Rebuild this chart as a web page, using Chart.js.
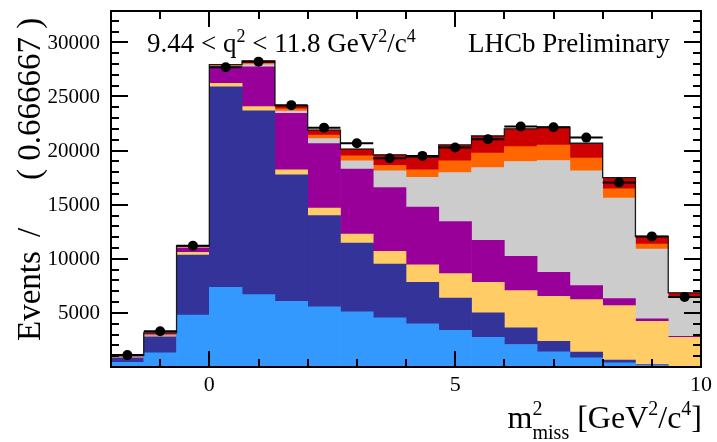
<!DOCTYPE html>
<html>
<head>
<meta charset="utf-8">
<script src="https://cdn.jsdelivr.net/npm/chart.js@4.4.1/dist/chart.umd.min.js"></script>
<style>
  html, body { margin: 0; padding: 0; background: #ffffff; }
  canvas { display: block; }
</style>
</head>
<body>
<canvas id="chart" width="717" height="442"></canvas>
<script>
// m²_miss histogram: 18 bins of width 2/3 GeV²/c⁴ between -2 and 10
const binWidth = 2 / 3;
const binCenters = [-1.6667, -1.0, -0.3333, 0.3333, 1.0, 1.6667, 2.3333, 3.0, 3.6667,
                    4.3333, 5.0, 5.6667, 6.3333, 7.0, 7.6667, 8.3333, 9.0, 9.6667];

// Fit components, stacked from the bottom up (events per bin)
const lightBlue   = [440, 1310, 4800, 7360, 6690, 6070, 5550, 5090, 4540, 3990, 3400, 2750, 2080, 1400, 850, 390, 140, 20];
const darkBlue    = [410, 1475, 5550, 18540, 16990, 11690, 8450, 6370, 4980, 3840, 2980, 2250, 1540, 980, 520, 240, 90, 40];
const lightOrange = [50, 115, 240, 315, 380, 460, 680, 830, 1160, 1620, 2250, 2830, 3440, 4150, 4860, 5040, 4000, 2690];
const purple      = [50, 70, 410, 1535, 3690, 5230, 5970, 5990, 5910, 5330, 4820, 3870, 3160, 2220, 1290, 650, 220, 90];
const grey        = [10, 20, 30, 70, 200, 210, 450, 770, 1540, 2760, 4520, 6730, 8770, 10330, 10610, 9290, 6450, 3540];
const orange      = [40, 60, 70, 60, 150, 190, 330, 460, 490, 680, 1080, 1330, 1380, 1440, 1170, 860, 470, 150];
const red         = [80, 100, 110, 70, 180, 300, 470, 620, 980, 1170, 1470, 1590, 1630, 1640, 1380, 1040, 700, 320];

// Observed events per bin
const dataCounts = [1100, 3300, 11210, 27700, 28220, 24200, 22120, 20680, 19300, 19510, 20280, 21050, 22220, 22160, 21200, 17050, 12070, 6480];

// Axis tick labels
const xTickLabels = [0, 5, 10];
const yTickLabels = [5000, 10000, 15000, 20000, 25000, 30000];

const layers = [
  { values: lightBlue,   color: '#3399ff' },
  { values: darkBlue,    color: '#333399' },
  { values: lightOrange, color: '#ffcc66' },
  { values: purple,      color: '#990099' },
  { values: grey,        color: '#cccccc' },
  { values: orange,      color: '#ff6600' },
  { values: red,         color: '#cc0000' }
];

const toXY = arr => arr.map((v, i) => ({ x: binCenters[i], y: v }));
const n = binCenters.length;

// stacked total, drawn as a step outline over the histogram
const totals = binCenters.map((_, i) => layers.reduce((s, l) => s + l.values[i], 0));
const outline = binCenters.map((c, i) => ({ x: c - binWidth / 2, y: totals[i] }));
outline.push({ x: binCenters[n - 1] + binWidth / 2, y: totals[n - 1] });

// horizontal bin-width bars through each data point
const errBars = [];
binCenters.forEach((c, i) => {
  errBars.push({ x: c - binWidth / 2, y: dataCounts[i] });
  errBars.push({ x: c + binWidth / 2, y: dataCounts[i] });
  errBars.push({ x: c + binWidth / 2, y: null });
});

const datasets = layers.map(l => ({
  type: 'bar',
  data: toXY(l.values),
  backgroundColor: l.color,
  borderWidth: 0,
  barPercentage: 1.0,
  categoryPercentage: 1.0,
  stack: 'model',
  order: 3
}));
datasets.push({
  type: 'line', data: outline, stepped: 'before', borderColor: '#1a1a1a', borderWidth: 1.3,
  pointRadius: 0, fill: false, stack: 'outline', order: 2
});
datasets.push({
  type: 'line', data: errBars, borderColor: '#000000', borderWidth: 2, pointRadius: 0,
  fill: false, spanGaps: false, stack: 'errors', order: 1
});
datasets.push({
  type: 'scatter', data: toXY(dataCounts), pointRadius: 5, pointHoverRadius: 5,
  backgroundColor: '#000000', borderWidth: 0, stack: 'points', order: 0
});

const SERIF = '"Liberation Serif", "Times New Roman", serif';

// draw a run of text pieces; consecutive `script` pieces share one x start
function drawRich(ctx, pieces, x, y) {
  let cx = x;
  let scriptStart = null, scriptAdvance = 0;
  for (const p of pieces) {
    ctx.font = p.size + 'px ' + SERIF;
    const w = ctx.measureText(p.t).width;
    if (p.script) {
      if (scriptStart === null) { scriptStart = cx; scriptAdvance = 0; }
      ctx.fillText(p.t, scriptStart, y + p.dy);
      scriptAdvance = Math.max(scriptAdvance, w);
      cx = scriptStart + scriptAdvance;
    } else {
      scriptStart = null;
      ctx.fillText(p.t, cx, y + (p.dy || 0));
      cx += w;
    }
  }
  return cx - x;
}
function richWidth(ctx, pieces) {
  let total = 0, scriptAdv = null;
  for (const p of pieces) {
    ctx.font = p.size + 'px ' + SERIF;
    const w = ctx.measureText(p.t).width;
    if (p.script) {
      if (scriptAdv === null) { scriptAdv = w; total += w; }
      else if (w > scriptAdv) { total += w - scriptAdv; scriptAdv = w; }
    } else { scriptAdv = null; total += w; }
  }
  return total;
}

const framePlugin = {
  id: 'frameAndText',
  afterDraw(chart) {
    const { ctx, chartArea: a, scales: { x, y } } = chart;
    ctx.save();
    ctx.strokeStyle = '#000';
    ctx.fillStyle = '#000';

    // inward ticks on all four sides
    ctx.lineWidth = 2;
    ctx.beginPath();
    for (let v = 0; v <= y.max; v += 1000) {
      const py = Math.round(y.getPixelForValue(v));
      const len = v % 5000 === 0 ? 17 : 8;
      ctx.moveTo(a.left, py); ctx.lineTo(a.left + len, py);
      ctx.moveTo(a.right, py); ctx.lineTo(a.right - len, py);
    }
    for (let v = -2; v <= 10; v += 1) {
      const px = Math.round(x.getPixelForValue(v));
      const len = v % 5 === 0 ? 16 : 8;
      ctx.moveTo(px, a.bottom); ctx.lineTo(px, a.bottom - len);
      ctx.moveTo(px, a.top); ctx.lineTo(px, a.top + len);
    }
    ctx.stroke();

    // frame
    ctx.lineWidth = 2;
    ctx.strokeRect(a.left, a.top, a.right - a.left, a.bottom - a.top);

    // y tick labels
    ctx.font = '21px ' + SERIF;
    ctx.textAlign = 'right';
    ctx.textBaseline = 'middle';
    yTickLabels.forEach(v => ctx.fillText(String(v), a.left - 11, y.getPixelForValue(v) + 1));

    ctx.textBaseline = 'alphabetic';
    ctx.textAlign = 'left';

    // kinematic range label
    drawRich(ctx, [
      { t: '9.44 < q', size: 27 },
      { t: '2', size: 18, dy: -10, script: true },
      { t: ' < 11.8 GeV', size: 27 },
      { t: '2', size: 18, dy: -10, script: true },
      { t: '/c', size: 27 },
      { t: '4', size: 18, dy: -10, script: true }
    ], 147, 52);

    ctx.font = '27px ' + SERIF;
    ctx.fillText('LHCb Preliminary', 468, 52);

    // x-axis title, right-aligned to the frame
    const xt = [
      { t: 'm', size: 32 },
      { t: '2', size: 20, dy: -13, script: true },
      { t: 'miss', size: 20, dy: 11, script: true },
      { t: ' [GeV', size: 32 },
      { t: '2', size: 20, dy: -13, script: true },
      { t: '/c', size: 32 },
      { t: '4', size: 20, dy: -13, script: true },
      { t: ']', size: 32 }
    ];
    drawRich(ctx, xt, a.right + 1 - richWidth(ctx, xt), 428);

    // y-axis title, rotated and running up the left side
    ctx.translate(40, 341);
    ctx.rotate(-Math.PI / 2);
    ctx.font = '33px ' + SERIF;
    ctx.fillText('Events', 0, 0);
    ctx.fillText('/', 104, 0);
    ctx.fillText('( 0.666667 )', 161, 0);
    ctx.restore();
  }
};

new Chart(document.getElementById('chart'), {
  type: 'bar',
  data: { datasets },
  options: {
    responsive: false,
    animation: false,
    devicePixelRatio: 1,
    layout: { padding: { left: 0, right: 14, top: 11, bottom: 0 } },
    plugins: { legend: { display: false }, tooltip: { enabled: false } },
    scales: {
      x: {
        type: 'linear', min: -2, max: 10, offset: false, stacked: true,
        grid: { display: false, drawTicks: false },
        border: { display: false },
        ticks: {
          stepSize: 5, includeBounds: false, autoSkip: false, maxRotation: 0, padding: 5,
          color: '#000', font: { family: SERIF, size: 22 },
          callback: v => xTickLabels.includes(v) ? String(v) : ''
        },
        afterFit: s => { s.height = 75; }
      },
      y: {
        type: 'linear', min: 0, max: 32900, stacked: true,
        grid: { display: false, drawTicks: false },
        border: { display: false },
        ticks: { display: false, stepSize: 5000 },
        afterFit: s => { s.width = 111; }
      }
    }
  },
  plugins: [framePlugin]
});
</script>
</body>
</html>
